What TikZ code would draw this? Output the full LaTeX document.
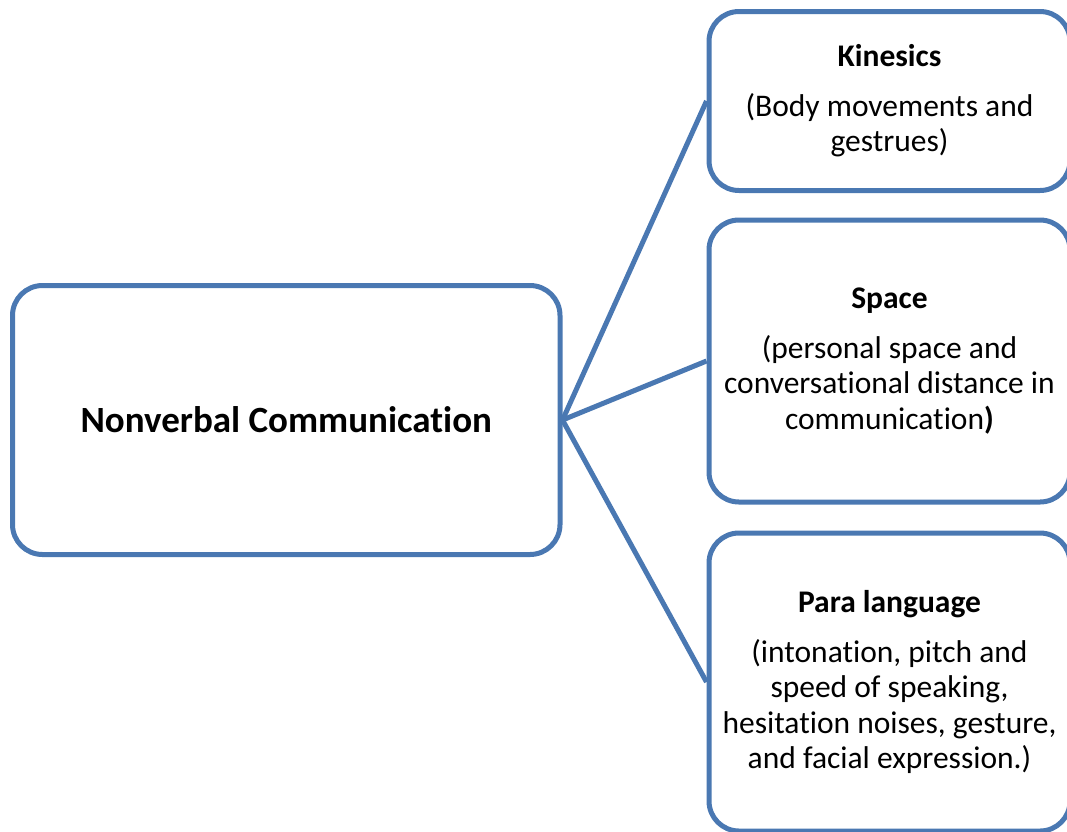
\documentclass[tikz,border=0pt]{standalone}
\usepackage{fontspec}
\setmainfont{Carlito}[Ligatures={NoCommon,NoRare,NoContextual},RawFeature={-liga;-clig;-calt;-dlig}]
\definecolor{edgeblue}{HTML}{4A78B2}
\newcommand{\tiX}{t\kern0pt i}
\begin{document}
\begin{tikzpicture}[x=1pt,y=-1pt,
  box/.style={draw=edgeblue, line width=5pt, rounded corners=30pt, fill=white, inner sep=0pt, align=center},
  conn/.style={draw=edgeblue, line width=5pt},
  bodytext/.style={font=\fontsize{31.5}{35.5}\selectfont},
  maintext/.style={font=\fontsize{37}{44}\selectfont\bfseries}]
\useasboundingbox (0,0) rectangle (1067,831);
\node[box, maintext, minimum width=547.5pt, minimum height=269pt] (main) at (286.25,420) {Nonverbal Communica\tiX on};
\node[box, bodytext, minimum width=361pt, minimum height=179pt] (kin) at (889.5,101)
  {\textbf{Kinesics}\\[14pt](Body movements and\\gestrues)};
\node[box, bodytext, minimum width=361pt, minimum height=282pt] (space) at (889.5,361)
  {\textbf{Space}\\[14pt](personal space and\\conversa\tiX onal distance in\\communica\tiX on\textbf{)}};
\node[box, bodytext, minimum width=361pt, minimum height=298pt] (para) at (889.5,682)
  {\textbf{Para language}\\[14pt](intona\tiX on, pitch and\\speed of speaking,\\hesita\tiX on noises, gesture,\\and facial expression.)};
\draw[conn] (main.east) -- (kin.west);
\draw[conn] (main.east) -- (space.west);
\draw[conn] (main.east) -- (para.west);
\end{tikzpicture}
\end{document}
